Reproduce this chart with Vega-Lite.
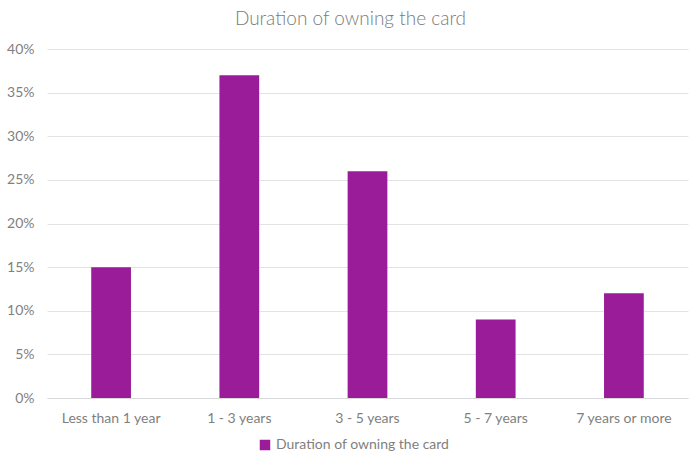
{
  "$schema": "https://vega.github.io/schema/vega-lite/v6.json",
  "width": 641,
  "height": 349,
  "autosize": {"type": "none"},
  "padding": {"left": 47, "top": 49, "right": 12, "bottom": 68},
  "background": "white",
  "title": {
    "text": "Duration of owning the card",
    "font": "Lato",
    "fontSize": 19,
    "fontWeight": 300,
    "color": "#7a7a7a",
    "anchor": "middle",
    "dx": -17,
    "offset": 13
  },
  "data": {
    "values": [
      {"duration": "Less than 1 year", "share": 0.15, "series": "Duration of owning the card"},
      {"duration": "1 - 3 years", "share": 0.37, "series": "Duration of owning the card"},
      {"duration": "3 - 5 years", "share": 0.26, "series": "Duration of owning the card"},
      {"duration": "5 - 7 years", "share": 0.09, "series": "Duration of owning the card"},
      {"duration": "7 years or more", "share": 0.12, "series": "Duration of owning the card"}
    ]
  },
  "mark": {"type": "bar"},
  "encoding": {
    "x": {
      "field": "duration",
      "type": "nominal",
      "sort": null,
      "scale": {"paddingInner": 0.69, "paddingOuter": 0.345},
      "axis": {
        "title": null,
        "labelAngle": 0,
        "labelFont": "Lato",
        "labelFontSize": 14,
        "labelColor": "#7f7f7f",
        "labelPadding": 13,
        "ticks": false,
        "domainColor": "#d9d9d9",
        "domainWidth": 1
      }
    },
    "y": {
      "field": "share",
      "type": "quantitative",
      "scale": {"domain": [0, 0.4]},
      "axis": {
        "title": null,
        "format": ".0%",
        "values": [0, 0.05, 0.1, 0.15, 0.2, 0.25, 0.3, 0.35, 0.4],
        "labelFont": "Lato",
        "labelFontSize": 14,
        "labelColor": "#7f7f7f",
        "labelPadding": 13,
        "ticks": false,
        "domain": false,
        "gridColor": "#e3e3e3",
        "gridWidth": 1
      }
    },
    "color": {
      "field": "series",
      "type": "nominal",
      "scale": {"range": ["#9A1C98"]},
      "legend": {
        "title": null,
        "orient": "none",
        "legendX": 211,
        "legendY": 389,
        "direction": "horizontal",
        "symbolType": "square",
        "symbolSize": 110,
        "symbolStrokeWidth": 0,
        "labelFont": "Lato",
        "labelFontSize": 14,
        "labelColor": "#7f7f7f",
        "labelLimit": 0
      }
    }
  },
  "config": {
    "view": {"stroke": null}
  }
}
